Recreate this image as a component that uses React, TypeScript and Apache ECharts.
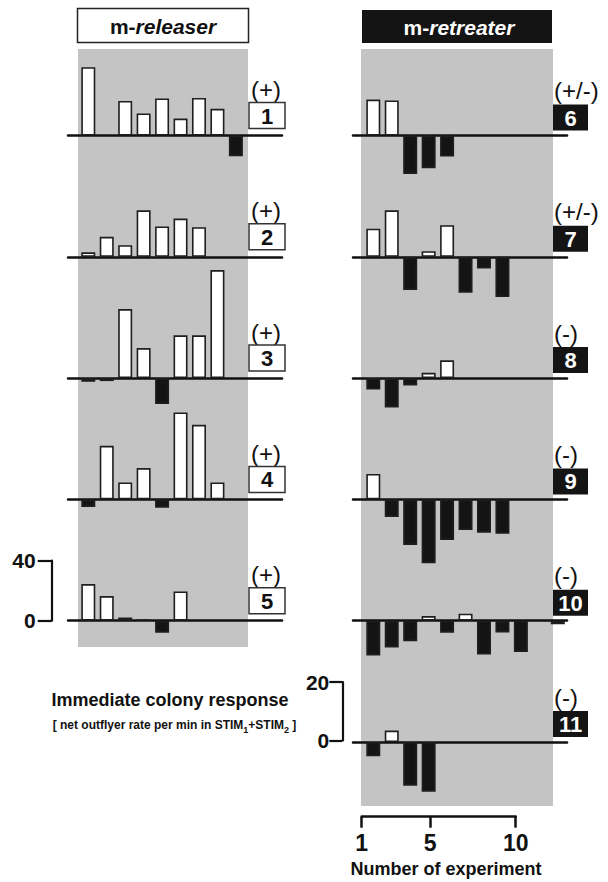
import React, { useEffect, useRef } from "react";
import * as echarts from "echarts";

// ---- data ----
const releaserPanels = [1, 2, 3, 4, 5];
const releaserSigns = ["(+)", "(+)", "(+)", "(+)", "(+)"];
const releaser1 = [45.5, null, 23, 14.7, 24.7, 11.3, 25, 17.8, -13.8];
const releaser2 = [3, 13.3, 7.7, 31, 20.2, 25.5, 19.7];
const releaser3 = [-2.5, -2, 46, 20, -17.3, 28.5, 28.5, 72];
const releaser4 = [-5, 35.7, 11.3, 20.9, -5.5, 58, 49.7, 11.3];
const releaser5 = [24.4, 16.4, 2.2, 1, -8, 19.5];

const retreaterPanels = [6, 7, 8, 9, 10, 11];
const retreaterSigns = ["(+/-)", "(+/-)", "(-)", "(-)", "(-)", "(-)"];
const retreater6 = [12.3, 12, -13.2, -11.2, -7.2];
const retreater7 = [9.6, 15.9, -11.4, 1.9, 10.8, -12.3, -4, -13.8];
const retreater8 = [-3.9, -10.1, -2.5, 1.8, 6.1];
const retreater9 = [8.7, -6, -15.6, -21.9, -13.9, -10.5, -11.4, -11.8];
const retreater10 = [-11.9, -9.2, -7, 1.6, -4.1, 2.4, -11.6, -4, -10.7, null, -1.2];
const retreater11 = [-4.9, 3.9, -15, -17];

const releaserScale = [0, 40];
const retreaterScale = [0, 20];
const experimentTicks = [1, 5, 10];

const releaserValues = [releaser1, releaser2, releaser3, releaser4, releaser5];
const retreaterValues = [retreater6, retreater7, retreater8, retreater9, retreater10, retreater11];

// ---- layout ----
const FONT = "Liberation Sans";
const BASE0 = 135.5;
const STEP = 121.3;
const X_MIN = -0.1;
const X_MAX = 11.5;

export default function App() {
  const ref = useRef<HTMLDivElement>(null);

  useEffect(() => {
    if (!ref.current) return;
    const chart = echarts.init(ref.current, null, { renderer: "svg" });

    const grids: any[] = [];
    const xAxes: any[] = [];
    const yAxes: any[] = [];
    const series: any[] = [];
    const graphics: any[] = [];

    // gray backgrounds
    graphics.push({ type: "rect", shape: { x: 78, y: 49, width: 170, height: 598 }, style: { fill: "#c4c4c4" }, z: -10 });
    graphics.push({ type: "rect", shape: { x: 361, y: 49, width: 192, height: 757 }, style: { fill: "#c4c4c4" }, z: -10 });

    // titles
    graphics.push({ type: "rect", shape: { x: 77.5, y: 8.5, width: 171, height: 34 }, style: { fill: "#fff", stroke: "#222", lineWidth: 1.5 } });
    graphics.push({
      type: "text", x: 163, y: 26,
      style: {
        text: "{a|m-}{b|releaser}", align: "center", verticalAlign: "middle",
        rich: {
          a: { fontFamily: FONT, fontSize: 21, fontWeight: "bold", fill: "#111" },
          b: { fontFamily: FONT, fontSize: 21, fontWeight: "bold", fontStyle: "italic", fill: "#111" },
        },
      },
    });
    graphics.push({ type: "rect", shape: { x: 362, y: 10, width: 190, height: 33 }, style: { fill: "#141414" } });
    graphics.push({
      type: "text", x: 459, y: 27,
      style: {
        text: "{a|m-}{b|retreater}", align: "center", verticalAlign: "middle",
        rich: {
          a: { fontFamily: FONT, fontSize: 21, fontWeight: "bold", fill: "#fff" },
          b: { fontFamily: FONT, fontSize: 21, fontWeight: "bold", fontStyle: "italic", fill: "#fff" },
        },
      },
    });

    const addPanel = (values: (number | null)[], idx: number, left: number, height: number, yMax: number) => {
      const base = BASE0 + idx * STEP;
      const g = grids.length;
      grids.push({ left, top: base - height, width: 214, height });
      xAxes.push({
        gridIndex: g, type: "value", min: X_MIN, max: X_MAX,
        axisLine: { show: true, onZero: true, lineStyle: { color: "#111", width: 2.5 } },
        axisTick: { show: false }, axisLabel: { show: false }, splitLine: { show: false },
      });
      yAxes.push({ gridIndex: g, type: "value", min: 0, max: yMax, show: false, splitLine: { show: false } });
      const data = values
        .map((v, i) => (v == null ? null : {
          value: [i + 1, v],
          itemStyle: { color: v >= 0 ? "#ffffff" : "#141414" },
        }))
        .filter((d) => d !== null);
      series.push({
        type: "bar", xAxisIndex: g, yAxisIndex: g, data, barWidth: 14, clip: false,
        itemStyle: { borderColor: "#1e1e1e", borderWidth: 1.6 },
      });
      return base;
    };

    // scale bracket: its own grid whose left edge is the bracket line
    const addScale = (lineX: number, base: number, height: number, scale: number[], tickLen: number, margin: number, fontSize: number) => {
      const g = grids.length;
      grids.push({ left: lineX, top: base - height, width: 1, height });
      xAxes.push({ gridIndex: g, type: "value", show: false, min: 0, max: 1 });
      yAxes.push({
        gridIndex: g, type: "value", min: scale[0], max: scale[1], interval: scale[1] - scale[0],
        position: "left",
        axisLine: { show: true, lineStyle: { color: "#111", width: 2.2 } },
        axisTick: { show: true, length: tickLen, lineStyle: { color: "#111", width: 2.2 } },
        axisLabel: { show: true, margin: margin, fontFamily: FONT, fontSize, fontWeight: "bold", color: "#111" },
        splitLine: { show: false },
      });
    };

    releaserValues.forEach((vals, i) => {
      const base = addPanel(vals, i, 68, 60, releaserScale[1]);
      graphics.push({
        type: "text", x: 251, y: base - 46,
        style: { text: releaserSigns[i], fontFamily: FONT, fontSize: 24, fill: "#111", align: "left", verticalAlign: "middle" },
      });
      graphics.push({ type: "rect", shape: { x: 249, y: base - 33, width: 36, height: 26 }, style: { fill: "#fff", stroke: "#333", lineWidth: 1.5 } });
      graphics.push({
        type: "text", x: 267, y: base - 19.5,
        style: { text: String(releaserPanels[i]), fontFamily: FONT, fontSize: 22, fontWeight: "bold", fill: "#111", align: "center", verticalAlign: "middle" },
      });
      if (i === releaserValues.length - 1) addScale(51.7, base, 60, releaserScale, 14, 16, 21);
    });

    retreaterValues.forEach((vals, i) => {
      const base = addPanel(vals, i, 353, 58.4, retreaterScale[1]);
      graphics.push({
        type: "text", x: 554, y: base - 45,
        style: { text: retreaterSigns[i], fontFamily: FONT, fontSize: 24, fill: "#111", align: "left", verticalAlign: "middle" },
      });
      graphics.push({ type: "rect", shape: { x: 553, y: base - 31, width: 35, height: 26 }, style: { fill: "#141414" } });
      graphics.push({
        type: "text", x: 570.5, y: base - 17.5,
        style: { text: String(retreaterPanels[i]), fontFamily: FONT, fontSize: 22, fontWeight: "bold", fill: "#fff", align: "center", verticalAlign: "middle" },
      });
      if (i === retreaterValues.length - 1) addScale(342.3, base - 1.5, 58.4, retreaterScale, 13, 13, 21);
    });

    // experiment number bracket axis
    const gb = grids.length;
    grids.push({ left: 361.7, top: 806.7, width: 154, height: 10 });
    xAxes.push({
      gridIndex: gb, type: "value", min: experimentTicks[0], max: experimentTicks[experimentTicks.length - 1],
      position: "bottom",
      axisLine: { show: true, onZero: false, lineStyle: { color: "#111", width: 2.5 } },
      axisTick: { show: true, length: 11, customValues: experimentTicks, lineStyle: { color: "#111", width: 2.5 } },
      axisLabel: { show: true, margin: 15, customValues: experimentTicks, fontFamily: FONT, fontSize: 23, fontWeight: "bold", color: "#111" },
      splitLine: { show: false },
    });
    yAxes.push({ gridIndex: gb, type: "value", show: false, min: 0, max: 1 });

    graphics.push({
      type: "text", x: 446, y: 869,
      style: { text: "Number of experiment", fontFamily: FONT, fontSize: 18, fontWeight: "bold", fill: "#111", align: "center", verticalAlign: "middle" },
    });
    graphics.push({
      type: "text", x: 170, y: 700,
      style: { text: "Immediate colony response", fontFamily: FONT, fontSize: 18, fontWeight: "bold", fill: "#111", align: "center", verticalAlign: "middle" },
    });
    graphics.push({
      type: "text", x: 174.5, y: 725,
      style: {
        text: "{n|[ net outflyer rate per min in STIM}{s|1}{n|+STIM}{s|2}{n| ]}",
        align: "center", verticalAlign: "middle",
        rich: {
          n: { fontFamily: FONT, fontSize: 12, fontWeight: "bold", fill: "#111", lineHeight: 18, verticalAlign: "middle" },
          s: { fontFamily: FONT, fontSize: 9, fontWeight: "bold", fill: "#111", lineHeight: 8, verticalAlign: "bottom" },
        },
      },
    });

    chart.setOption({
      animation: false,
      backgroundColor: "#ffffff",
      grid: grids,
      xAxis: xAxes,
      yAxis: yAxes,
      series,
      graphic: { elements: graphics },
    });

    return () => chart.dispose();
  }, []);

  return <div ref={ref} style={{ position: "absolute", left: 0, top: 0, width: 608, height: 882 }} />;
}
